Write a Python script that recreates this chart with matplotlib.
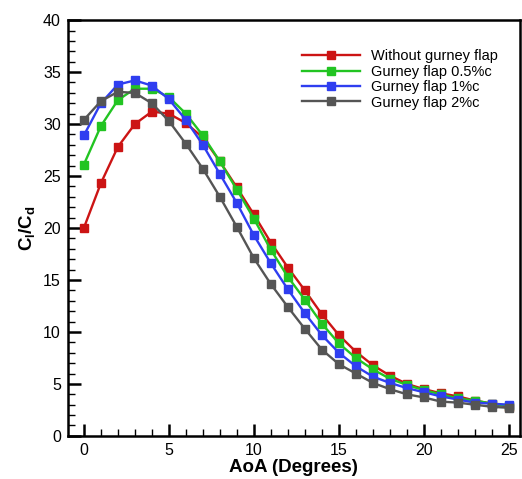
import matplotlib
matplotlib.use("Agg")
import matplotlib.pyplot as plt
import numpy as np
from matplotlib.ticker import MultipleLocator

plt.rcParams['font.family'] = ['Liberation Sans', 'DejaVu Sans']
plt.rcParams['mathtext.fontset'] = 'custom'
plt.rcParams['mathtext.rm'] = 'Liberation Sans:bold'
plt.rcParams['mathtext.it'] = 'Liberation Sans:bold'
plt.rcParams['mathtext.bf'] = 'Liberation Sans:bold'

# Angle of attack (degrees)
aoa = np.arange(0, 26)

# Lift-to-drag ratio for each case
without_flap = [20.0, 24.3, 27.8, 30.0, 31.2, 31.0, 30.1, 28.7, 26.4, 23.9,
                21.3, 18.6, 16.2, 14.0, 11.7, 9.7, 8.1, 6.8, 5.8, 5.0,
                4.5, 4.1, 3.8, 3.4, 3.1, 2.8]
flap_05 = [26.1, 29.8, 32.3, 33.4, 33.4, 32.6, 31.0, 28.9, 26.4, 23.7,
           20.9, 17.9, 15.3, 13.1, 10.8, 8.9, 7.5, 6.4, 5.5, 4.9,
           4.4, 4.0, 3.6, 3.4, 3.1, 2.9]
flap_1 = [28.9, 32.0, 33.8, 34.2, 33.7, 32.4, 30.4, 28.0, 25.2, 22.4,
          19.3, 16.6, 14.1, 11.8, 9.7, 8.0, 6.7, 5.7, 5.1, 4.6,
          4.2, 3.8, 3.5, 3.2, 3.1, 3.0]
flap_2 = [30.4, 32.2, 33.1, 33.0, 32.0, 30.3, 28.1, 25.7, 23.0, 20.1,
          17.1, 14.6, 12.4, 10.3, 8.3, 6.9, 6.0, 5.1, 4.5, 4.0,
          3.7, 3.3, 3.2, 3.0, 2.8, 2.7]

series = [
    (without_flap, 'Without gurney flap', '#cc1414'),
    (flap_05, 'Gurney flap 0.5%c', '#22c422'),
    (flap_1, 'Gurney flap 1%c', '#2f3ef0'),
    (flap_2, 'Gurney flap 2%c', '#555555'),
]

fig = plt.figure(figsize=(5.22, 4.79), dpi=100)
ax = fig.add_axes([0.130, 0.090, 0.866, 0.868])

for values, label, color in series:
    ax.plot(aoa, values, color=color, lw=1.7, marker='s', ms=6,
            mec=color, mfc=color, label=label)

ax.set_xlim(-0.94, 25.65)
ax.set_ylim(0, 40)
ax.xaxis.set_major_locator(MultipleLocator(5))
ax.xaxis.set_minor_locator(MultipleLocator(1))
ax.yaxis.set_major_locator(MultipleLocator(5))
ax.yaxis.set_minor_locator(MultipleLocator(1))
ax.tick_params(which='major', direction='in', length=9, width=1.8,
               labelsize=11.5, pad=5, top=False, right=False)
ax.tick_params(which='minor', direction='in', length=5, width=1,
               top=False, right=False)
for s in ax.spines.values():
    s.set_linewidth(1.8)

ax.set_xlabel('AoA (Degrees)', fontsize=13.5, fontweight='bold', labelpad=1)
ax.set_ylabel('$C_l/C_d$', fontsize=13.5, labelpad=4)

ax.legend(loc='upper left', bbox_to_anchor=(0.518, 0.93), frameon=False,
          fontsize=10.5, handlelength=4.0, handletextpad=0.7,
          labelspacing=0.1, borderpad=0, borderaxespad=0)

fig.savefig('out.png', dpi=100)
